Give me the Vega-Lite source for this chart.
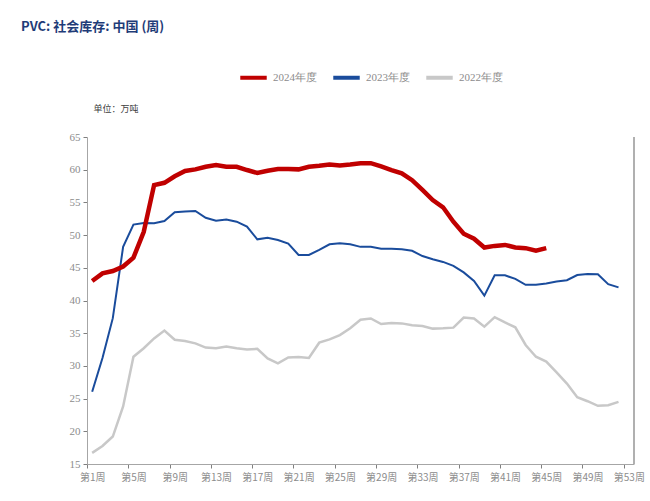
{
  "$schema": "https://vega.github.io/schema/vega-lite/v6.json",
  "width": 547,
  "height": 327,
  "autosize": {"type": "none"},
  "padding": {"left": 87, "top": 137, "right": 16, "bottom": 37},
  "background": "white",
  "title": {
    "text": "PVC: 社会库存: 中国 (周)",
    "anchor": "start",
    "dx": -48,
    "offset": 28,
    "fontSize": 13,
    "fontWeight": "bold",
    "font": "Noto Sans CJK SC",
    "color": "#1F3C78"
  },
  "config": {
    "view": {"stroke": null},
    "axis": {
      "labelFont": "Liberation Sans Narrow",
      "labelFontSize": 11,
      "labelColor": "#8C8C8C",
      "domainColor": "#A6A6A6",
      "tickColor": "#7F7F7F",
      "tickSize": 4,
      "grid": false
    }
  },
  "data": {
    "values": [
      {"week": 1, "year": "2022年度", "value": 16.7},
      {"week": 2, "year": "2022年度", "value": 17.75},
      {"week": 3, "year": "2022年度", "value": 19.2},
      {"week": 4, "year": "2022年度", "value": 23.8},
      {"week": 5, "year": "2022年度", "value": 31.4},
      {"week": 6, "year": "2022年度", "value": 32.7},
      {"week": 7, "year": "2022年度", "value": 34.2},
      {"week": 8, "year": "2022年度", "value": 35.4},
      {"week": 9, "year": "2022年度", "value": 34.0},
      {"week": 10, "year": "2022年度", "value": 33.8},
      {"week": 11, "year": "2022年度", "value": 33.45},
      {"week": 12, "year": "2022年度", "value": 32.8},
      {"week": 13, "year": "2022年度", "value": 32.7},
      {"week": 14, "year": "2022年度", "value": 32.95},
      {"week": 15, "year": "2022年度", "value": 32.7},
      {"week": 16, "year": "2022年度", "value": 32.5},
      {"week": 17, "year": "2022年度", "value": 32.6},
      {"week": 18, "year": "2022年度", "value": 31.15},
      {"week": 19, "year": "2022年度", "value": 30.4},
      {"week": 20, "year": "2022年度", "value": 31.3},
      {"week": 21, "year": "2022年度", "value": 31.35},
      {"week": 22, "year": "2022年度", "value": 31.2},
      {"week": 23, "year": "2022年度", "value": 33.55},
      {"week": 24, "year": "2022年度", "value": 34.05},
      {"week": 25, "year": "2022年度", "value": 34.7},
      {"week": 26, "year": "2022年度", "value": 35.75},
      {"week": 27, "year": "2022年度", "value": 37.05},
      {"week": 28, "year": "2022年度", "value": 37.25},
      {"week": 29, "year": "2022年度", "value": 36.4},
      {"week": 30, "year": "2022年度", "value": 36.55},
      {"week": 31, "year": "2022年度", "value": 36.5},
      {"week": 32, "year": "2022年度", "value": 36.2},
      {"week": 33, "year": "2022年度", "value": 36.1},
      {"week": 34, "year": "2022年度", "value": 35.7},
      {"week": 35, "year": "2022年度", "value": 35.75},
      {"week": 36, "year": "2022年度", "value": 35.85},
      {"week": 37, "year": "2022年度", "value": 37.4},
      {"week": 38, "year": "2022年度", "value": 37.25},
      {"week": 39, "year": "2022年度", "value": 36.0},
      {"week": 40, "year": "2022年度", "value": 37.45},
      {"week": 41, "year": "2022年度", "value": 36.65},
      {"week": 42, "year": "2022年度", "value": 35.9},
      {"week": 43, "year": "2022年度", "value": 33.2},
      {"week": 44, "year": "2022年度", "value": 31.4},
      {"week": 45, "year": "2022年度", "value": 30.65},
      {"week": 46, "year": "2022年度", "value": 29.0},
      {"week": 47, "year": "2022年度", "value": 27.3},
      {"week": 48, "year": "2022年度", "value": 25.2},
      {"week": 49, "year": "2022年度", "value": 24.6},
      {"week": 50, "year": "2022年度", "value": 23.9},
      {"week": 51, "year": "2022年度", "value": 24.0},
      {"week": 52, "year": "2022年度", "value": 24.5},
      {"week": 1, "year": "2023年度", "value": 26.05},
      {"week": 2, "year": "2023年度", "value": 31.2},
      {"week": 3, "year": "2023年度", "value": 37.3},
      {"week": 4, "year": "2023年度", "value": 48.2},
      {"week": 5, "year": "2023年度", "value": 51.6},
      {"week": 6, "year": "2023年度", "value": 51.85},
      {"week": 7, "year": "2023年度", "value": 51.8},
      {"week": 8, "year": "2023年度", "value": 52.15},
      {"week": 9, "year": "2023年度", "value": 53.5},
      {"week": 10, "year": "2023年度", "value": 53.6},
      {"week": 11, "year": "2023年度", "value": 53.7},
      {"week": 12, "year": "2023年度", "value": 52.65},
      {"week": 13, "year": "2023年度", "value": 52.2},
      {"week": 14, "year": "2023年度", "value": 52.4},
      {"week": 15, "year": "2023年度", "value": 52.05},
      {"week": 16, "year": "2023年度", "value": 51.3},
      {"week": 17, "year": "2023年度", "value": 49.35},
      {"week": 18, "year": "2023年度", "value": 49.6},
      {"week": 19, "year": "2023年度", "value": 49.25},
      {"week": 20, "year": "2023年度", "value": 48.7},
      {"week": 21, "year": "2023年度", "value": 46.96},
      {"week": 22, "year": "2023年度", "value": 46.96},
      {"week": 23, "year": "2023年度", "value": 47.75},
      {"week": 24, "year": "2023年度", "value": 48.6},
      {"week": 25, "year": "2023年度", "value": 48.75},
      {"week": 26, "year": "2023年度", "value": 48.6},
      {"week": 27, "year": "2023年度", "value": 48.2},
      {"week": 28, "year": "2023年度", "value": 48.2},
      {"week": 29, "year": "2023年度", "value": 47.9},
      {"week": 30, "year": "2023年度", "value": 47.9},
      {"week": 31, "year": "2023年度", "value": 47.85},
      {"week": 32, "year": "2023年度", "value": 47.6},
      {"week": 33, "year": "2023年度", "value": 46.8},
      {"week": 34, "year": "2023年度", "value": 46.3},
      {"week": 35, "year": "2023年度", "value": 45.9},
      {"week": 36, "year": "2023年度", "value": 45.3},
      {"week": 37, "year": "2023年度", "value": 44.3},
      {"week": 38, "year": "2023年度", "value": 43.0},
      {"week": 39, "year": "2023年度", "value": 40.75},
      {"week": 40, "year": "2023年度", "value": 43.85},
      {"week": 41, "year": "2023年度", "value": 43.85},
      {"week": 42, "year": "2023年度", "value": 43.3},
      {"week": 43, "year": "2023年度", "value": 42.4},
      {"week": 44, "year": "2023年度", "value": 42.4},
      {"week": 45, "year": "2023年度", "value": 42.6},
      {"week": 46, "year": "2023年度", "value": 42.9},
      {"week": 47, "year": "2023年度", "value": 43.1},
      {"week": 48, "year": "2023年度", "value": 43.9},
      {"week": 49, "year": "2023年度", "value": 44.05},
      {"week": 50, "year": "2023年度", "value": 44.0},
      {"week": 51, "year": "2023年度", "value": 42.5},
      {"week": 52, "year": "2023年度", "value": 42.0},
      {"week": 1, "year": "2024年度", "value": 42.98},
      {"week": 2, "year": "2024年度", "value": 44.15},
      {"week": 3, "year": "2024年度", "value": 44.5},
      {"week": 4, "year": "2024年度", "value": 45.2},
      {"week": 5, "year": "2024年度", "value": 46.55},
      {"week": 6, "year": "2024年度", "value": 50.5},
      {"week": 7, "year": "2024年度", "value": 57.65},
      {"week": 8, "year": "2024年度", "value": 58.0},
      {"week": 9, "year": "2024年度", "value": 59.0},
      {"week": 10, "year": "2024年度", "value": 59.8},
      {"week": 11, "year": "2024年度", "value": 60.05},
      {"week": 12, "year": "2024年度", "value": 60.45},
      {"week": 13, "year": "2024年度", "value": 60.7},
      {"week": 14, "year": "2024年度", "value": 60.45},
      {"week": 15, "year": "2024年度", "value": 60.45},
      {"week": 16, "year": "2024年度", "value": 59.95},
      {"week": 17, "year": "2024年度", "value": 59.5},
      {"week": 18, "year": "2024年度", "value": 59.85},
      {"week": 19, "year": "2024年度", "value": 60.1},
      {"week": 20, "year": "2024年度", "value": 60.1},
      {"week": 21, "year": "2024年度", "value": 60.05},
      {"week": 22, "year": "2024年度", "value": 60.45},
      {"week": 23, "year": "2024年度", "value": 60.6},
      {"week": 24, "year": "2024年度", "value": 60.8},
      {"week": 25, "year": "2024年度", "value": 60.65},
      {"week": 26, "year": "2024年度", "value": 60.8},
      {"week": 27, "year": "2024年度", "value": 61.0},
      {"week": 28, "year": "2024年度", "value": 61.0},
      {"week": 29, "year": "2024年度", "value": 60.5},
      {"week": 30, "year": "2024年度", "value": 59.95},
      {"week": 31, "year": "2024年度", "value": 59.45},
      {"week": 32, "year": "2024年度", "value": 58.4},
      {"week": 33, "year": "2024年度", "value": 56.9},
      {"week": 34, "year": "2024年度", "value": 55.35},
      {"week": 35, "year": "2024年度", "value": 54.25},
      {"week": 36, "year": "2024年度", "value": 52.05},
      {"week": 37, "year": "2024年度", "value": 50.2},
      {"week": 38, "year": "2024年度", "value": 49.45},
      {"week": 39, "year": "2024年度", "value": 48.1},
      {"week": 40, "year": "2024年度", "value": 48.35},
      {"week": 41, "year": "2024年度", "value": 48.5},
      {"week": 42, "year": "2024年度", "value": 48.1},
      {"week": 43, "year": "2024年度", "value": 48.0},
      {"week": 44, "year": "2024年度", "value": 47.6},
      {"week": 45, "year": "2024年度", "value": 48.0}
    ]
  },
  "encoding": {
    "x": {
      "field": "week",
      "type": "quantitative",
      "scale": {"domain": [0.5, 53.5], "nice": false, "zero": false},
      "axis": {
        "title": null,
        "values": [1, 5, 9, 13, 17, 21, 25, 29, 33, 37, 41, 45, 49, 53],
        "labelExpr": "'第' + datum.value + '周'",
        "tickOffset": -5.16,
        "labelOffset": 5.16,
        "labelFont": "Noto Sans CJK SC",
        "labelFontSize": 10,
        "labelPadding": 4,
        "labelFlush": false
      }
    }
  },
  "layer": [
    {
      "mark": {"type": "rule", "color": "#B0B0B0", "strokeWidth": 1.5},
      "encoding": {
        "x": {"datum": 53.5, "type": "quantitative"}
      }
    },
    {
      "encoding": {
        "y": {
          "field": "value",
          "type": "quantitative",
          "scale": {"domain": [15, 65], "nice": false, "zero": false},
          "axis": {
            "values": [15, 20, 25, 30, 35, 40, 45, 50, 55, 60, 65],
            "title": "单位：万吨",
            "titleAngle": 0,
            "titleAlign": "left",
            "titleBaseline": "middle",
            "titleX": 6,
            "titleY": -29,
            "titleFont": "Noto Sans CJK SC",
            "titleFontSize": 9,
            "titleFontWeight": "normal",
            "titleColor": "#404040",
            "labelPadding": 3
          }
        },
        "color": {
          "field": "year",
          "type": "nominal",
          "scale": {
            "domain": ["2024年度", "2023年度", "2022年度"],
            "range": ["#C00000", "#1A4C9C", "#C8C8C8"]
          },
          "legend": {
            "title": null,
            "orient": "none",
            "direction": "horizontal",
            "legendX": 151,
            "legendY": -75,
            "symbolType": "stroke",
            "symbolSize": 700,
            "symbolStrokeWidth": 4,
            "labelFont": "Liberation Sans Narrow",
            "labelFontSize": 11,
            "labelColor": "#8C8C8C",
            "columnPadding": 8
          }
        }
      },
      "layer": [
        {
          "transform": [{"filter": "datum.year === '2022年度'"}],
          "mark": {"type": "line", "strokeWidth": 2.5}
        },
        {
          "transform": [{"filter": "datum.year === '2023年度'"}],
          "mark": {"type": "line", "strokeWidth": 2}
        },
        {
          "transform": [{"filter": "datum.year === '2024年度'"}],
          "mark": {"type": "line", "strokeWidth": 4.5}
        }
      ]
    }
  ]
}
